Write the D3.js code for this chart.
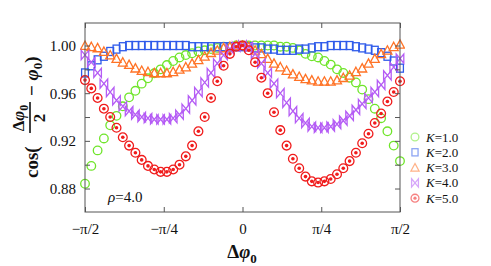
<!DOCTYPE html>
<html><head><meta charset="utf-8">
<script src="https://cdn.jsdelivr.net/npm/d3@7"></script>
<style>body{margin:0;background:#fff}svg{display:block}</style>
</head><body>
<script>
// x positions: index i -> -pi/2 + i*pi/50 (51 samples)
const nPts = 51;
const k1 = [0.884,0.899,0.912,0.922,0.933,0.941,0.949,0.9565,0.962,0.968,0.9725,0.9767,0.980,0.9836,0.987,0.990,0.992,0.9935,0.995,0.996,0.997,0.998,0.999,0.999,1.000,1.000,1.000,1.000,1.000,1.000,1.000,0.999,0.999,0.998,0.996,0.993,0.991,0.990,0.987,0.984,0.980,0.977,0.973,0.969,0.963,0.955,0.947,0.939,0.928,0.916,0.903];
const k2 = [0.977,0.983,0.988,0.991,0.995,0.997,0.999,1.000,1.000,1.000,1.000,1.000,1.000,1.000,1.000,1.000,1.000,0.999,0.999,0.999,0.999,0.999,0.999,0.999,0.999,0.999,0.999,0.998,0.998,0.997,0.997,0.996,0.996,0.996,0.997,0.997,0.998,0.999,0.999,1.000,1.000,1.000,1.000,0.999,0.998,0.997,0.996,0.994,0.991,0.987,0.981];
const k3 = [1.000,0.999,0.998,0.995,0.992,0.989,0.986,0.984,0.981,0.979,0.978,0.977,0.977,0.977,0.978,0.980,0.982,0.985,0.988,0.991,0.994,0.996,0.998,0.999,1.000,1.000,0.999,0.996,0.993,0.989,0.985,0.982,0.979,0.976,0.974,0.972,0.971,0.970,0.970,0.970,0.971,0.973,0.975,0.978,0.981,0.985,0.989,0.993,0.996,0.999,1.001];
const k4 = [0.992,0.986,0.977,0.968,0.961,0.954,0.949,0.945,0.942,0.940,0.939,0.938,0.938,0.938,0.939,0.942,0.947,0.954,0.961,0.969,0.977,0.985,0.992,0.997,0.999,1.000,0.999,0.993,0.985,0.977,0.968,0.960,0.952,0.945,0.939,0.935,0.932,0.931,0.931,0.932,0.934,0.937,0.941,0.946,0.951,0.956,0.961,0.967,0.975,0.982,0.989];
const k5 = [0.971,0.964,0.956,0.947,0.940,0.931,0.923,0.916,0.910,0.904,0.899,0.896,0.894,0.894,0.896,0.900,0.907,0.916,0.928,0.940,0.956,0.970,0.983,0.993,0.999,1.000,0.996,0.986,0.973,0.960,0.944,0.929,0.916,0.905,0.897,0.890,0.886,0.885,0.886,0.888,0.892,0.897,0.903,0.910,0.918,0.926,0.935,0.943,0.953,0.961,0.970];
const seriesNames = ["K=1.0","K=2.0","K=3.0","K=4.0","K=5.0"];
const xTickVals = [-Math.PI/2, -Math.PI/4, 0, Math.PI/4, Math.PI/2];
const xTickLabels = ["\u2212\u03c0/2","\u2212\u03c0/4","0","\u03c0/4","\u03c0/2"];
const yTickVals = [0.88,0.90,0.92,0.94,0.96,0.98,1.00];
const yLabelVals = [0.88,0.92,0.96,1.00];

const W=491,H=266;
const m={l:85,r:400,t:23,b:212};
const svg=d3.select("body").append("svg").attr("width",W).attr("height",H);
const x=d3.scaleLinear().domain([-Math.PI/2,Math.PI/2]).range([m.l,m.r]);
const y=d3.scaleLinear().domain([0.8603,1.0189]).range([m.b,m.t]);
const xs=d3.range(nPts).map(i=>-Math.PI/2+i*Math.PI/(nPts-1));

const colors=["#6fe52a","#2f5bea","#ff7326","#b55cf5","#f01c1c"];
const serif="'Liberation Serif','Times New Roman',serif";

function marker(g,k,sc){
  sc=sc||1;
  const c=colors[k];
  if(k===0){g.append("circle").attr("r",4.3*sc).attr("fill","none").attr("stroke",c).attr("stroke-width",1.3);}
  else if(k===1){g.append("rect").attr("x",-3.4*sc).attr("y",-4*sc).attr("width",6.8*sc).attr("height",8*sc).attr("fill","none").attr("stroke",c).attr("stroke-width",1.3);}
  else if(k===2){const s=4.5*sc;g.append("path").attr("d",`M0,${-s}L${s},${s*0.85}L${-s},${s*0.85}Z`).attr("fill","none").attr("stroke",c).attr("stroke-width",1.3);}
  else if(k===3){const a=3.8*sc,b=4.6*sc;g.append("path").attr("d",`M${-a},${-b}L${a},${b}L${a},${-b}L${-a},${b}Z`).attr("fill","none").attr("stroke",c).attr("stroke-width",1.3);}
  else {g.append("circle").attr("r",4.4*sc).attr("fill","none").attr("stroke",c).attr("stroke-width",1.3);
        g.append("circle").attr("r",1.8*sc).attr("fill",c);}
}

const clip=svg.append("clipPath").attr("id","cp").append("rect").attr("x",m.l-5).attr("y",m.t).attr("width",m.r-m.l+10).attr("height",m.b-m.t);
const plot=svg.append("g").attr("clip-path","url(#cp)");
[k1,k2,k3,k4,k5].forEach((arr,k)=>{
  arr.forEach((v,i)=>{
    const g=plot.append("g").attr("transform",`translate(${x(xs[i])},${y(v)})`);
    marker(g,k);
  });
});

// frame and ticks
const axc="#555";
svg.append("rect").attr("x",m.l).attr("y",m.t).attr("width",m.r-m.l).attr("height",m.b-m.t).attr("fill","none").attr("stroke",axc).attr("stroke-width",1);
const ax=svg.append("g").attr("transform",`translate(0,${m.b})`).call(d3.axisBottom(x).tickValues(xTickVals).tickFormat((d,i)=>xTickLabels[i]).tickSizeInner(-5).tickSizeOuter(0).tickPadding(11));
const at=svg.append("g").attr("transform",`translate(0,${m.t})`).call(d3.axisTop(x).tickValues(xTickVals).tickFormat("").tickSizeInner(-5).tickSizeOuter(0));
const ay=svg.append("g").attr("transform",`translate(${m.l},0)`).call(d3.axisLeft(y).tickValues(yTickVals).tickFormat(d=>yLabelVals.some(v=>Math.abs(v-d)<1e-9)?d3.format(".2f")(d):"").tickSizeInner(-5).tickSizeOuter(0).tickPadding(9));
const ar=svg.append("g").attr("transform",`translate(${m.r},0)`).call(d3.axisRight(y).tickValues(yTickVals).tickFormat("").tickSizeInner(-5).tickSizeOuter(0));
[ax,at,ay,ar].forEach(a=>{a.select(".domain").remove();a.selectAll("line").attr("stroke",axc);a.selectAll("text").attr("font-family",serif).attr("font-size",15).attr("fill","#111");});
ax.selectAll("text").attr("dy","0.71em");

// rho label
const rt=svg.append("text").attr("x",108).attr("y",202).attr("font-family",serif).attr("font-size",15).attr("fill","#111");
rt.append("tspan").attr("font-style","italic").text("\u03c1");
rt.append("tspan").text("=4.0");

// x title
const xt=svg.append("text").attr("x",242).attr("y",258).attr("text-anchor","middle").attr("font-family",serif).attr("font-size",19).attr("font-weight","bold").attr("fill","#111");
xt.append("tspan").text("\u0394");
xt.append("tspan").attr("font-style","italic").text("\u03c6");
xt.append("tspan").attr("font-size",13).attr("dy",5).text("0");

// y title (rotated, with fraction)
const yg=svg.append("g").attr("transform","translate(38,178) rotate(-90)").attr("font-family",serif).attr("font-weight","bold").attr("fill","#111");
yg.append("text").attr("x",0).attr("y",0).attr("font-size",19).text("cos(");
yg.append("text").attr("x",60).attr("y",-14).attr("text-anchor","middle").attr("font-size",17).html('<tspan>\u0394</tspan><tspan font-style="italic">\u03c6</tspan><tspan font-size="12" dy="4">0</tspan>');
yg.append("line").attr("x1",45).attr("x2",76).attr("y1",-8).attr("y2",-8).attr("stroke","#111").attr("stroke-width",1.6);
yg.append("text").attr("x",60).attr("y",7).attr("text-anchor","middle").attr("font-size",17).text("2");
const yt2=yg.append("text").attr("x",82).attr("y",0).attr("font-size",19);
yt2.append("tspan").text("\u2212 ");
yt2.append("tspan").attr("font-style","italic").text("\u03c6");
yt2.append("tspan").attr("font-size",13).attr("dy",4).text("0");
yt2.append("tspan").attr("dy",-4).text(")");

// legend
const lg=svg.append("g");
seriesNames.forEach((nm,k)=>{
  const yy=137+k*15.3;
  const g=lg.append("g").attr("transform",`translate(415,${yy})`).attr("opacity",0.55);
  marker(g,k,0.9);
  const t=lg.append("text").attr("x",426).attr("y",yy+4.5).attr("font-family",serif).attr("font-size",13).attr("fill","#111");
  t.append("tspan").attr("font-style","italic").text("K");
  t.append("tspan").text(nm.slice(1));
});
</script>
</body></html>
